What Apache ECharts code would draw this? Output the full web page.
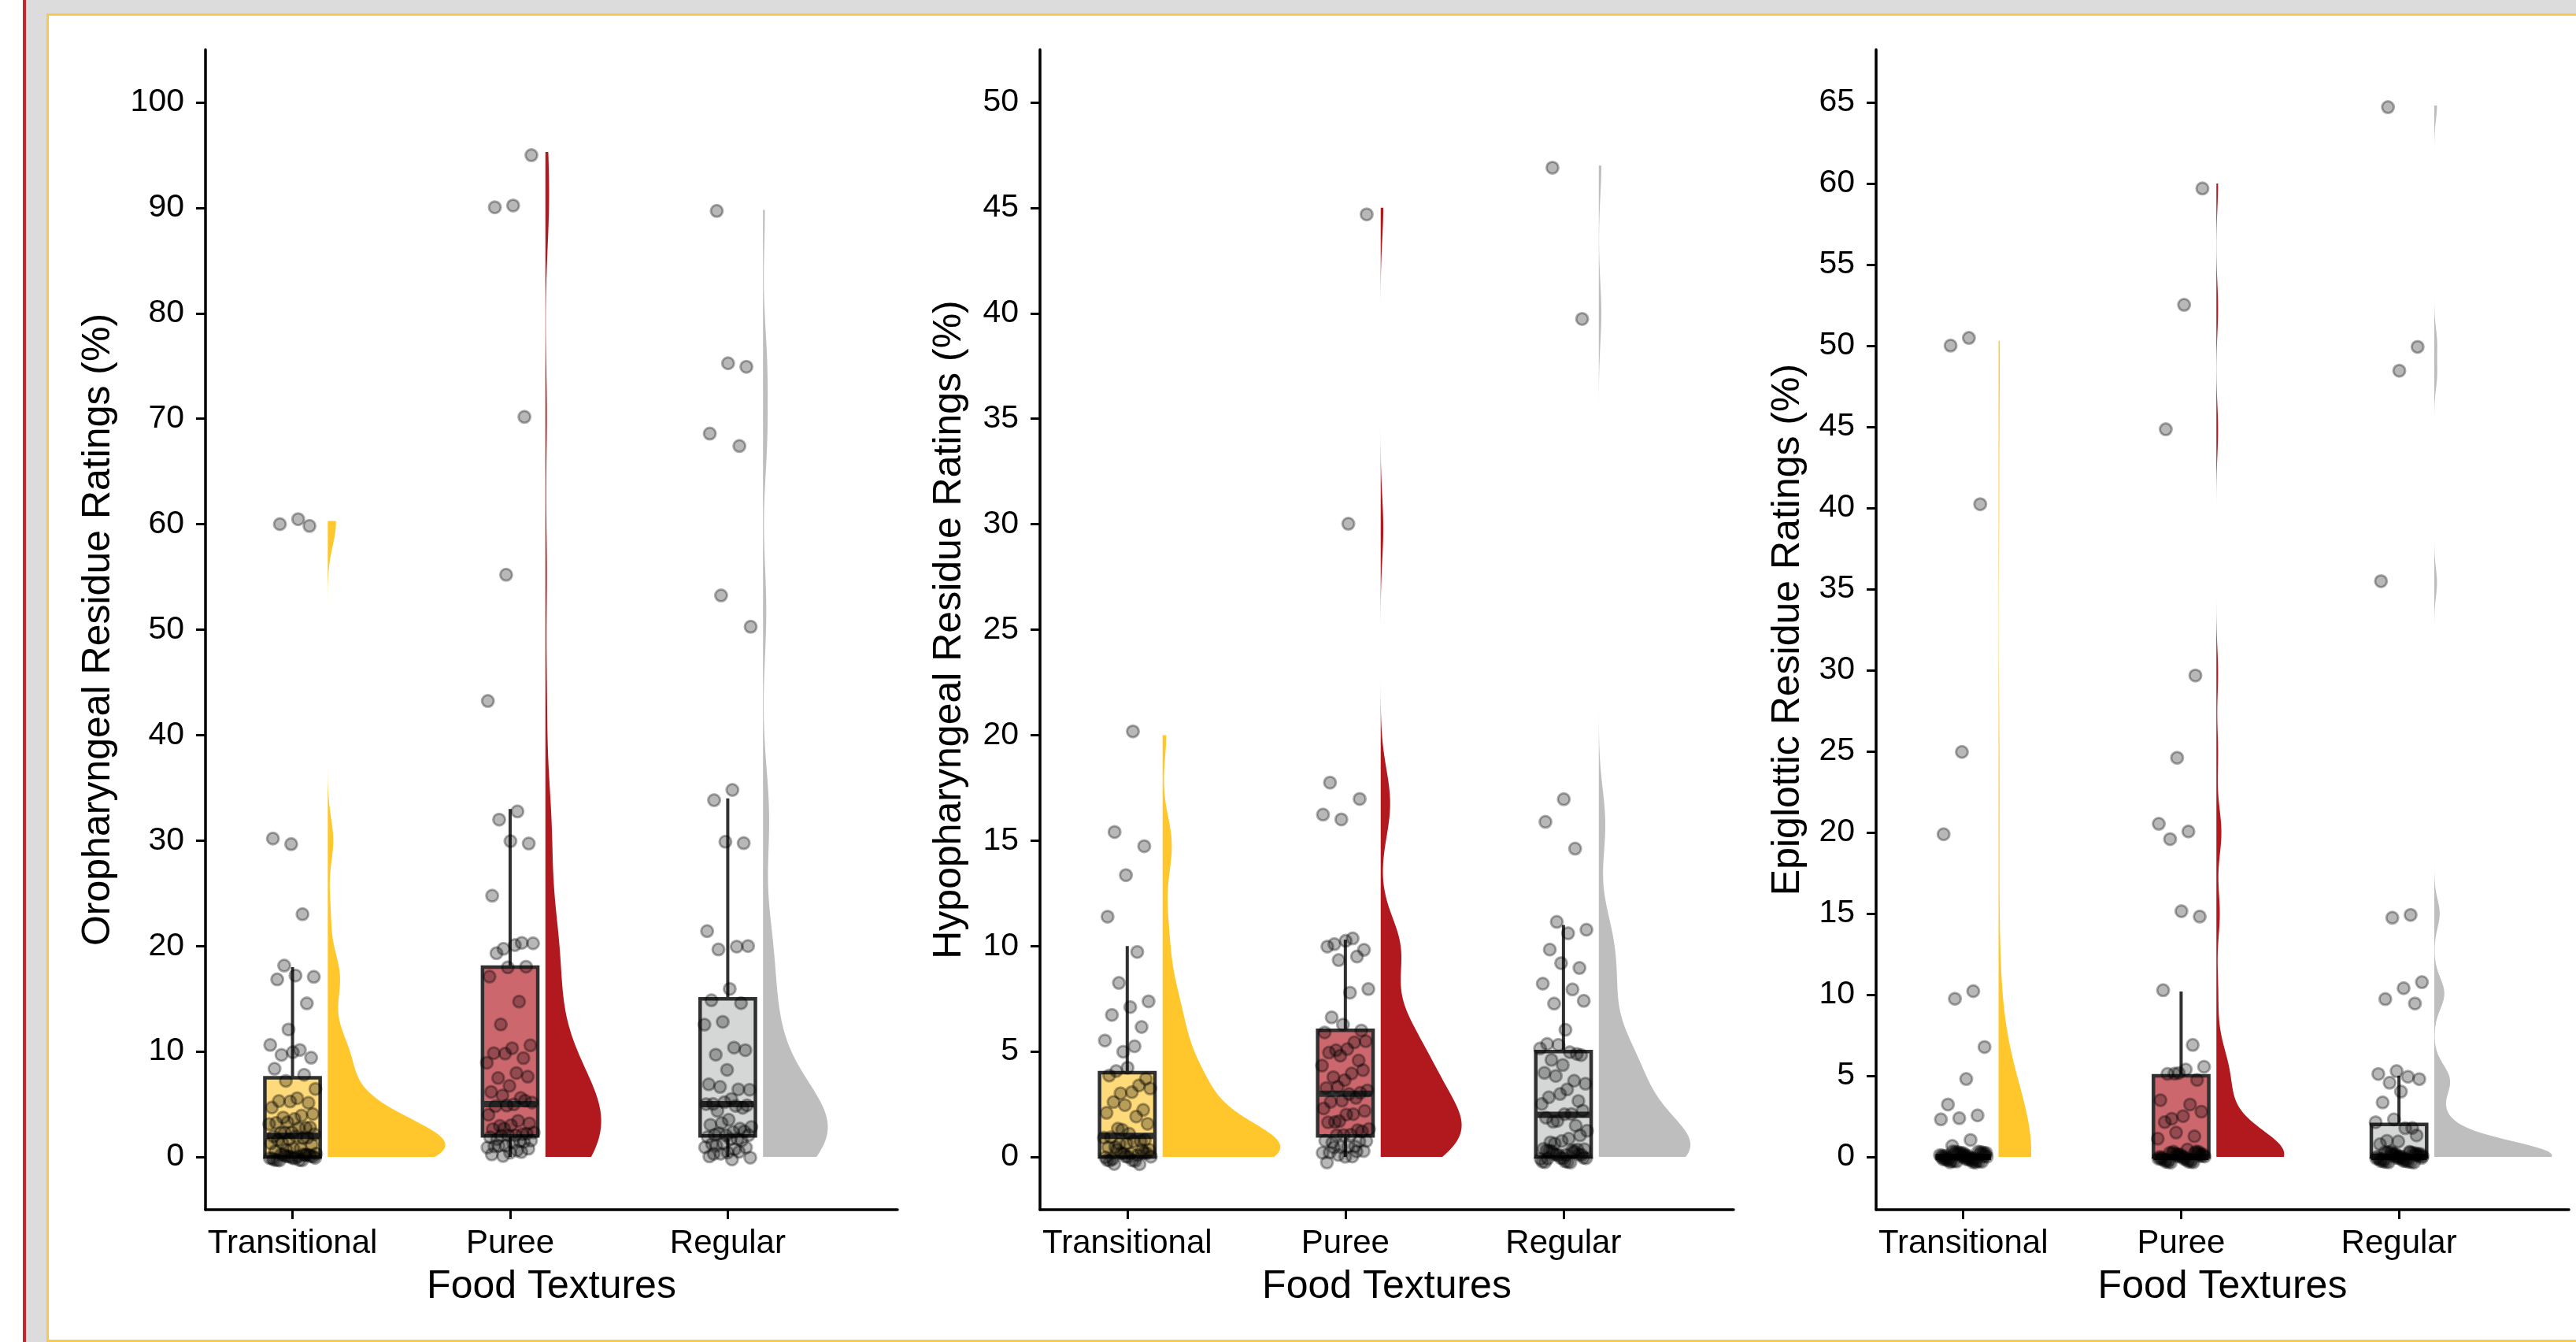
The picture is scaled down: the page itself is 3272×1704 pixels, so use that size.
<!DOCTYPE html>
<html>
<head>
<meta charset="utf-8">
<title>Residue ratings by food texture</title>
<script src="https://cdn.jsdelivr.net/npm/echarts@6/dist/echarts.min.js"></script>
<style>
	html, body { margin: 0; padding: 0; width: 3272px; height: 1704px; overflow: hidden; background: #fff; }
	#edge { position: absolute; left: 29px; top: 0; width: 4px; height: 1704px; background: #c1272d; }
	#back { position: absolute; left: 33px; top: 0; width: 3239px; height: 1704px; background: #dcdcdc; }
	#sheet { position: absolute; left: 59px; top: 17px; width: 3220px; height: 1681px; background: #fff;
		border-left: 3px solid #f8c94c; border-top: 3px solid #f8c94c; border-bottom: 3px solid #f8c94c; }
	#chart { position: absolute; left: 0; top: 0; width: 3272px; height: 1704px; }
</style>
</head>
<body>
<div id="edge"></div>
<div id="back"></div>
<div id="sheet"></div>
<div id="chart"></div>
<script>
// categories and axis text
const categories = ['Transitional', 'Puree', 'Regular'];
const yTitles = ['Oropharyngeal Residue Ratings (%)', 'Hypopharyngeal Residue Ratings (%)', 'Epiglottic Residue Ratings (%)'];
const oroTicks = [0, 10, 20, 30, 40, 50, 60, 70, 80, 90, 100];
const hypoTicks = [0, 5, 10, 15, 20, 25, 30, 35, 40, 45, 50];
const epiTicks = [0, 5, 10, 15, 20, 25, 30, 35, 40, 45, 50, 55, 60, 65];

// ratings (oropharyngeal)
const oroTransitional = [60.3, 60, 60, 30, 30, 23, 18.3, 17.4, 17, 16.8, 14.7, 12.4, 10.4, 10.1, 9.8, 9.7, 9.7, 8.3, 7.9,
	7.5, 6.2, 5.5, 5.4, 5.4, 5, 4.6, 4, 4, 3.8, 3.5, 3.3, 3, 3, 3, 2.8, 2.5, 2.5, 2.2, 2, 2, 2, 2, 2, 1.8, 1.5, 1.5, 1.3,
	1, 1, 1, 0.8, 0.7, 0.5, 0.5, 0.3, 0.2, 0, 0, 0, 0, 0, 0, 0, 0, 0, 0, 0, 0, 0, 0, 0, 0, 0, 0, 0, 0];
const oroPuree = [95.3, 90, 90, 70.3, 55.5, 43, 32.7, 32.1, 30, 29.7, 24.7, 20.4, 20, 20, 20, 19.4, 18.3, 17.7, 17, 14.8,
	12.8, 10.3, 10.2, 9.9, 9.6, 9.5, 8.8, 8, 7.7, 7.3, 6.6, 6.2, 5.8, 5.5, 5, 5, 5, 5, 4.7, 4, 3.6, 3.3, 3, 3, 2.8, 2.5, 2.5,
	2.3, 2.2, 2, 2, 2, 2, 1.8, 1.8, 1.5, 1.5, 1.3, 1.2, 1, 1, 0.9, 0.8, 0.7, 0.5, 0.5, 0.2, 0];
const oroRegular = [89.8, 75.2, 75, 68.5, 67.5, 53.5, 50, 34.7, 33.9, 30, 29.6, 21.3, 20, 19.9, 19.7, 15.8, 14.9, 14.8,
	12.5, 12.4, 10.4, 9.9, 9.8, 8.1, 6.9, 6.6, 6.3, 6.2, 5.5, 5.2, 5, 5, 5, 5, 4.7, 4.7, 3.5, 3.2, 3, 3, 2.8, 2.5, 2.4, 2.2,
	2, 2, 2, 2, 2, 1.8, 1.5, 1.3, 1.2, 1, 1, 0.8, 0.8, 0.5, 0.3, 0.2, 0.2, 0, 0, 0];

// hypopharyngeal
const hypoTransitional = [20, 15.4, 14.9, 13.7, 11.2, 9.7, 8.4, 7.7, 6.9, 6.7, 6.3, 5.3, 5.3, 5.2, 4.2, 4, 4, 3.8, 3.5,
	3.3, 3, 3, 2.7, 2.5, 2.2, 2, 2, 1.6, 1.3, 1, 1, 1, 1, 0.8, 0.8, 0.7, 0.5, 0.5, 0.5, 0.3, 0.3, 0.2, 0.2, 0.1,
	0, 0, 0, 0, 0, 0, 0, 0, 0, 0, 0, 0, 0, 0, 0, 0];
const hypoPuree = [45, 29.8, 17.7, 17.1, 16.3, 16, 10.3, 10.2, 10.1, 10, 9.9, 9.6, 9.6, 7.7, 7.7, 6.7, 6.25, 6, 5.8, 5.5,
	5.3, 5.2, 5, 5, 4.8, 4.5, 4.2, 4, 4, 3.8, 3.5, 3.3, 3, 3, 3, 3, 2.8, 2.7, 2.5, 2.3, 2.2, 2, 2, 2, 1.8, 1.6, 1.5, 1.3,
	1.2, 1, 1, 1, 0.9, 0.8, 0.8, 0.7, 0.6, 0.5, 0.5, 0.4, 0.3, 0.3, 0.2, 0.2, 0.1, 0, 0, 0];
const hypoRegular = [47, 40, 16.7, 15.8, 14.7, 11.4, 10.5, 10.5, 9.9, 9.2, 8.9, 8.1, 8, 7.5, 7.1, 5.9, 5.4, 5.1, 5, 5, 5,
	4.8, 4.5, 4.2, 4, 3.8, 3.5, 3.3, 3.2, 3, 3, 2.8, 2.5, 2.2, 2, 2, 2, 2, 1.8, 1.5, 1.2, 1, 1, 0.8, 0.7, 0.5, 0.5, 0.4,
	0.3, 0.2, 0.2, 0.1, 0, 0, 0, 0, 0, 0, 0, 0, 0, 0, 0, 0, 0, 0, 0, 0, 0, 0, 0, 0];

// epiglottic
const epiTransitional = [50.3, 50, 40.4, 25.3, 19.7, 10.2, 9.9, 7.1, 4.6, 3.2, 2.7, 2.7, 2.1, 1, 0.8,
	0, 0, 0, 0, 0, 0, 0, 0, 0, 0, 0, 0, 0, 0, 0, 0, 0, 0, 0, 0, 0, 0, 0, 0, 0, 0, 0, 0, 0, 0, 0, 0, 0, 0,
	0, 0, 0, 0, 0, 0, 0, 0, 0, 0, 0, 0, 0, 0, 0];
const epiPuree = [60, 52.3, 44.8, 29.8, 24.9, 20.3, 20, 19.7, 15.1, 14.9, 10.2, 7, 5.4, 5.3, 5.3, 5.2, 5, 4.9, 3.4, 3.3,
	2.6, 2.5, 2.4, 2.2, 1.5, 1.2, 1, 0.5, 0, 0, 0, 0, 0, 0, 0, 0, 0, 0, 0, 0, 0, 0, 0, 0, 0, 0, 0, 0, 0, 0, 0, 0, 0, 0,
	0, 0, 0, 0, 0, 0, 0, 0, 0, 0];
const epiRegular = [64.8, 50.2, 48.2, 35.4, 15, 15, 10.5, 10.3, 9.8, 9.7, 5, 5, 5, 4.8, 4.5, 3.9, 3.4, 2, 2, 2, 1.8, 1.2,
	1, 0.8, 0.8, 0.5, 0, 0, 0, 0, 0, 0, 0, 0, 0, 0, 0, 0, 0, 0, 0, 0, 0, 0, 0, 0, 0, 0, 0, 0, 0, 0, 0, 0, 0, 0, 0, 0,
	0, 0, 0, 0, 0, 0, 0, 0];

// box stats: [lower whisker, Q1, median, Q3, upper whisker]
const oroBoxes = [[0, 0, 2, 7.5, 18], [0, 2, 5, 18, 33], [0, 2, 5, 15, 34]];
const hypoBoxes = [[0, 0, 1, 4, 10], [0, 1, 3, 6, 10.3], [0, 0, 2, 5, 11]];
const epiBoxes = [[0, 0, 0, 0, 0], [0, 0, 0, 5, 10.2], [0, 0, 0, 2, 5]];

const font = '"Liberation Sans", Arial, sans-serif';
const violinColors = ['#ffc72c', '#b2191e', '#bebebe'];
const boxColors = ['#ffda7a', '#cd676e', '#d5d6d6'];
const boxHalf = 0.127;
const violinNudge = 0.162;
const violinMax = 0.54;

const panels = [
	{ groups: [oroTransitional, oroPuree, oroRegular], boxes: oroBoxes, ticks: oroTicks, min: -5, max: 105, left: 261, width: 879, nameGap: 111 },
	{ groups: [hypoTransitional, hypoPuree, hypoRegular], boxes: hypoBoxes, ticks: hypoTicks, min: -2.5, max: 52.5, left: 1321, width: 881, nameGap: 90 },
	{ groups: [epiTransitional, epiPuree, epiRegular], boxes: epiBoxes, ticks: epiTicks, min: -3.25, max: 68.25, left: 2383, width: 880, nameGap: 87 }
];

// R-style quantile (type 7) and bw.nrd0 for the half violins
function quantile(sorted, p) {
	const h = (sorted.length - 1) * p;
	const lo = Math.floor(h);
	const hi = Math.min(lo + 1, sorted.length - 1);
	return sorted[lo] + (h - lo) * (sorted[hi] - sorted[lo]);
}
function bandwidth(vals) {
	const n = vals.length;
	const mean = vals.reduce((a, b) => a + b, 0) / n;
	const sd = Math.sqrt(vals.reduce((a, v) => a + (v - mean) * (v - mean), 0) / (n - 1));
	const s = vals.slice().sort((a, b) => a - b);
	const iqr = quantile(s, 0.75) - quantile(s, 0.25);
	let lo = Math.min(sd, iqr / 1.34);
	if (!lo) lo = sd || Math.abs(s[0]) || 1;
	return 0.9 * lo * Math.pow(n, -0.2);
}
function density(vals) {
	const bw = bandwidth(vals);
	const lo = Math.min.apply(null, vals), hi = Math.max.apply(null, vals);
	const steps = 400, ys = [], ds = [];
	const norm = 1 / (vals.length * bw * Math.sqrt(2 * Math.PI));
	for (let k = 0; k <= steps; k++) {
		const y = lo + (hi - lo) * k / steps;
		let d = 0;
		for (const v of vals) { const z = (y - v) / bw; d += Math.exp(-0.5 * z * z); }
		ys.push(y);
		ds.push(d * norm);
	}
	return { ys, ds };
}

// deterministic spread of the dots around each category
function jitterX(i) { return (((i + 1) * 0.6180339887) % 1 - 0.5) * 0.22; }
function jitterY(i) { return (((i + 1) * 0.7548776662) % 1 - 0.5) * 0.7; }

const grids = [], xAxes = [], yAxes = [], series = [];

panels.forEach(function (p, pi) {
	const profiles = p.groups.map(density);
	const peak = Math.max.apply(null, profiles.map(pr => Math.max.apply(null, pr.ds)));

	grids.push({ left: p.left, top: 63, width: p.width, height: 1473 });

	xAxes.push({
		gridIndex: pi, type: 'value', min: 0.6, max: 3.78,
		axisLine: { onZero: false, lineStyle: { color: '#000', width: 3.5 } },
		axisTick: { customValues: [1, 2, 3], length: 12, lineStyle: { color: '#000', width: 3 } },
		axisLabel: {
			customValues: [1, 2, 3], formatter: v => categories[Math.round(v) - 1],
			fontSize: 42, color: '#000', fontFamily: font, margin: 22
		},
		splitLine: { show: false },
		name: 'Food Textures', nameLocation: 'middle', nameGap: 73,
		nameTextStyle: { fontSize: 50, color: '#000', fontFamily: font }
	});

	yAxes.push({
		gridIndex: pi, type: 'value', min: p.min, max: p.max,
		axisLine: { show: true, onZero: false, lineStyle: { color: '#000', width: 3.5 } },
		axisTick: { show: true, customValues: p.ticks, length: 12, lineStyle: { color: '#000', width: 3 } },
		axisLabel: { customValues: p.ticks, fontSize: 41, color: '#000', fontFamily: font, margin: 27 },
		splitLine: { show: false },
		name: yTitles[pi], nameLocation: 'middle', nameGap: p.nameGap, nameRotate: 90,
		nameTextStyle: { fontSize: 50, color: '#000', fontFamily: font }
	});

	// half violins
	series.push({
		type: 'custom', xAxisIndex: pi, yAxisIndex: pi, silent: true,
		data: profiles.map((pr, i) => [i + 1, pr.ys[0], pr.ys[pr.ys.length - 1]]),
		renderItem: function (params, api) {
			const i = params.dataIndex;
			const pr = profiles[i];
			const x0 = i + 1 + violinNudge;
			const pts = [];
			for (let k = 0; k < pr.ys.length; k++) pts.push(api.coord([x0 + pr.ds[k] / peak * violinMax, pr.ys[k]]));
			for (let k = pr.ys.length - 1; k >= 0; k--) pts.push(api.coord([x0, pr.ys[k]]));
			return { type: 'polygon', shape: { points: pts }, style: { fill: violinColors[i] } };
		}
	});

	// boxes
	series.push({
		type: 'custom', xAxisIndex: pi, yAxisIndex: pi, silent: true,
		data: p.boxes.map((b, i) => [i + 1].concat(b)),
		renderItem: function (params, api) {
			const x = api.value(0), lo = api.value(1), q1 = api.value(2), med = api.value(3), q3 = api.value(4), hi = api.value(5);
			const tl = api.coord([x - boxHalf, q3]), br = api.coord([x + boxHalf, q1]);
			const line = (a, b, w) => ({
				type: 'line', shape: { x1: a[0], y1: a[1], x2: b[0], y2: b[1] },
				style: { stroke: '#303030', lineWidth: w }
			});
			return {
				type: 'group',
				children: [
					line(api.coord([x, q3]), api.coord([x, hi]), 4),
					line(api.coord([x, lo]), api.coord([x, q1]), 4),
					{
						type: 'rect', shape: { x: tl[0], y: tl[1], width: br[0] - tl[0], height: br[1] - tl[1] },
						style: { fill: boxColors[params.dataIndex], stroke: '#303030', lineWidth: 4.5 }
					},
					line(api.coord([x - boxHalf, med]), api.coord([x + boxHalf, med]), 8)
				]
			};
		}
	});

	// dots
	const dots = [];
	p.groups.forEach(function (vals, gi) {
		vals.forEach(function (v, i) {
			dots.push([gi + 1 + jitterX(i + gi * 7), v + jitterY(i + gi * 11)]);
		});
	});
	series.push({
		type: 'scatter', xAxisIndex: pi, yAxisIndex: pi, silent: true,
		symbol: 'circle', symbolSize: 15, data: dots,
		itemStyle: { color: 'rgba(0,0,0,0.28)', borderColor: 'rgba(0,0,0,0.32)', borderWidth: 3, opacity: 1 }
	});
});

const chart = echarts.init(document.getElementById('chart'));
chart.setOption({
	animation: false,
	backgroundColor: 'transparent',
	grid: grids,
	xAxis: xAxes,
	yAxis: yAxes,
	series: series
});
</script>
</body>
</html>
